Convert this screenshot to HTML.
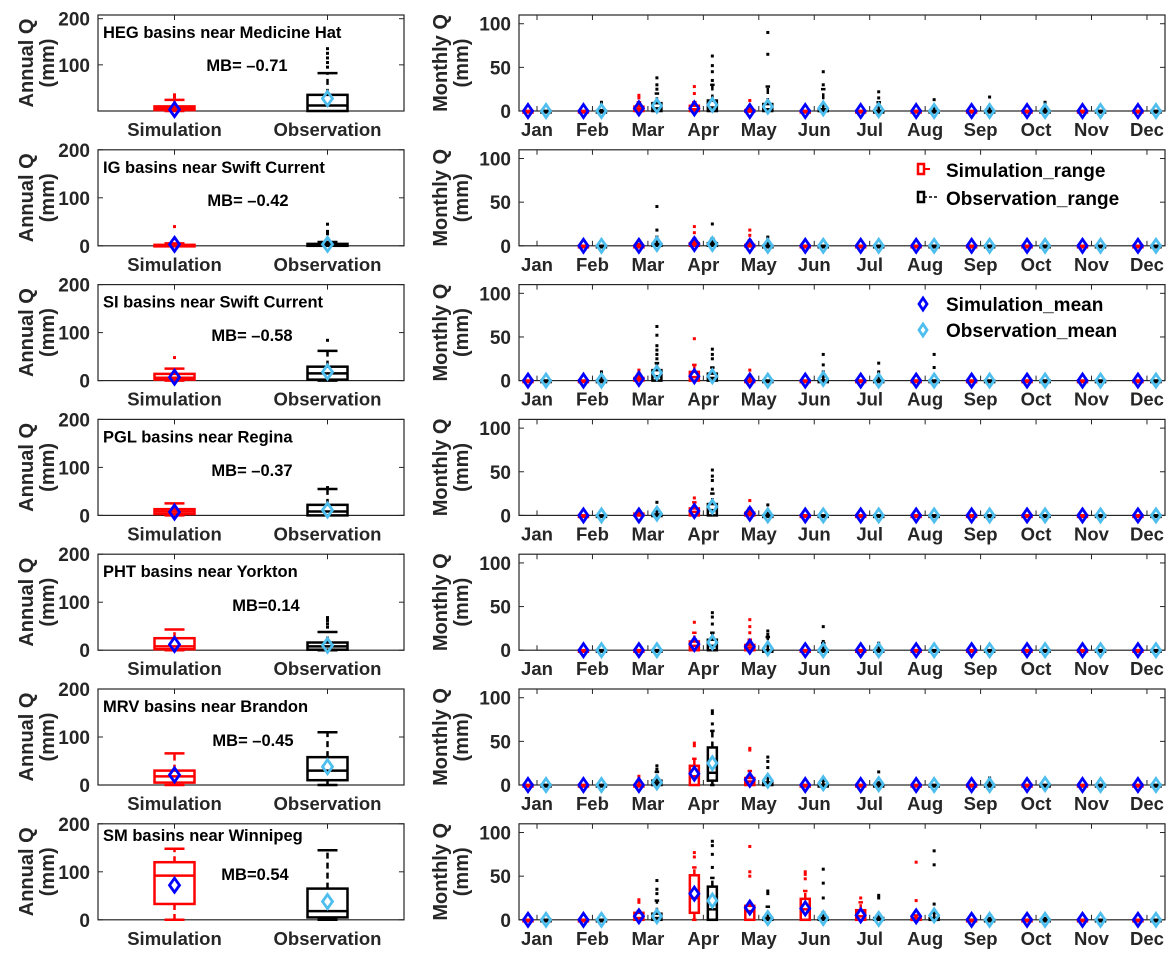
<!DOCTYPE html>
<html><head><meta charset="utf-8">
<style>
html,body{margin:0;padding:0;background:#fff;}
svg{display:block;font-family:"Liberation Sans",Arial,sans-serif;font-weight:bold;}
</style></head>
<body>
<svg id="chart" xmlns="http://www.w3.org/2000/svg" width="1176" height="958" viewBox="0 0 1176 958"></svg>
<script>
// ---------- DATA ----------
const regionTitles = ["HEG basins near Medicine Hat","IG basins near Swift Current","SI basins near Swift Current","PGL basins near Regina","PHT basins near Yorkton","MRV basins near Brandon","SM basins near Winnipeg"];
const mbLabels = ["MB= \u20130.71","MB= \u20130.42","MB= \u20130.58","MB= \u20130.37","MB=0.14","MB= \u20130.45","MB=0.54"];
const mbX = [247,248,252,252,266,253,255];
const months = ["Jan","Feb","Mar","Apr","May","Jun","Jul","Aug","Sep","Oct","Nov","Dec"];
const annualTicks = [0,100,200];
const monthlyTicks = [0,50,100];
// annual boxes: [lowWhisker, q1, median, q3, highWhisker]
const annualSimBox = [[0,2,5,10,24],[0,0,1,2,5],[0,2,6,14,25],[0,3,8,13,25],[0,2,8,25,43],[0,5,18,30,66],[0,33,92,120,148]];
const annualObsBox = [[0,0,12,35,82],[0,0,2,4,8],[0,2,15,29,62],[0,0,8,22,55],[0,1,8,16,38],[0,10,30,58,110],[0,5,18,65,145]];
const annualSimMean = [3,3,7,7,12,21,72];
const annualObsMean = [27,3,18,11,10,38,38];
const annualSimOut = [[30,35],[15,40],[48],[],[],[],[]];
const annualObsOut = [[95,105,115,125,135],[15,25,30,45],[84],[58],[48,55,62,68],[],[]];
// monthly (null = no data)
const N = null;
const monthlySimMean = [
 [0,0,3,3,0,0,0,0,0,0,0,0],[N,0,0,2,0,0,0,0,0,0,0,0],[0,0,2,5,0,0,0,0,0,0,0,0],
 [N,0,0,5,2,0,0,0,0,0,0,0],[N,0,0,7,4,0,0,0,0,0,0,0],[0,0,0,13,6,0,0,0,0,0,0,0],[0,0,4,30,14,13,5,4,0,0,0,0]];
const monthlyObsMean = [
 [0,0,6,7,5,3,1,0,0,0,0,0],[N,0,2,2,0,0,0,0,0,0,0,0],[0,0,9,5,0,2,0,0,0,0,0,0],
 [N,0,2,10,0,0,0,0,0,0,0,0],[N,0,0,9,2,0,0,0,0,0,0,0],[0,0,3,25,5,2,1,0,0,1,0,0],[0,0,4,22,2,2,1,5,0,0,0,0]];
const monthlySimQ1 = [
 [0,0,0,0,0,0,0,0,0,0,0,0],[0,0,0,0,0,0,0,0,0,0,0,0],[0,0,0,0,0,0,0,0,0,0,0,0],
 [0,0,0,0,0,0,0,0,0,0,0,0],[0,0,0,0,0,0,0,0,0,0,0,0],[0,0,0,0,0,0,0,0,0,0,0,0],[0,0,0,8,0,0,0,0,0,0,0,0]];
const monthlySimMed = [
 [0,0,2,2,0,0,0,0,0,0,0,0],[0,0,0,1,0,0,0,0,0,0,0,0],[0,0,1,4,0,0,0,0,0,0,0,0],
 [0,0,0,4,1,0,0,0,0,0,0,0],[0,0,0,5,3,0,0,0,0,0,0,0],[0,0,0,10,4,0,0,0,0,0,0,0],[0,0,2,25,10,12,4,0,0,0,0,0]];
const monthlySimQ3 = [
 [0,0,5,6,1,0,0,0,0,0,0,0],[0,0,0,3,1,0,0,0,0,0,0,0],[0,0,3,10,0,0,0,0,0,0,0,0],
 [0,0,2,8,3,0,0,0,0,0,0,0],[0,0,0,10,6,0,0,0,0,0,0,0],[0,0,0,22,8,0,0,0,0,0,0,0],[0,0,8,51,16,24,11,2,0,0,0,0]];
const monthlySimWhi = [
 [0,0,10,10,5,0,0,0,0,0,0,0],[0,0,2,8,6,0,0,0,0,0,0,0],[0,0,8,18,5,0,0,0,0,0,0,0],
 [0,0,3,15,8,0,0,0,0,0,0,0],[0,0,0,20,12,0,0,0,0,0,0,0],[0,0,5,30,16,0,0,0,0,0,0,0],[0,0,10,60,17,33,20,5,0,0,0,0]];
const monthlySimOut = [
 [[],[],[15,18],[20,28],[12],[],[],[],[],[],[],[]],
 [[],[],[],[15,22],[12,18],[],[],[],[],[],[],[]],
 [[],[],[12],[48],[12],[],[],[],[],[],[],[]],
 [[],[],[],[20],[17],[],[],[],[],[],[],[]],
 [[],[],[],[32],[20,27,35],[],[],[],[],[],[],[]],
 [[],[],[10],[45,48],[40,42],[],[],[],[],[],[],[]],
 [[],[],[20,23],[72,77],[50,55,84],[47,52,55],[25],[22,66],[],[],[],[]]];
const monthlyObsQ1 = [
 [0,0,0,0,0,0,0,0,0,0,0,0],[0,0,0,0,0,0,0,0,0,0,0,0],[0,0,0,0,0,0,0,0,0,0,0,0],
 [0,0,0,0,0,0,0,0,0,0,0,0],[0,0,0,0,0,0,0,0,0,0,0,0],[0,0,0,5,0,0,0,0,0,0,0,0],[0,0,0,0,0,0,0,0,0,0,0,0]];
const monthlyObsMed = [
 [0,0,3,4,2,0,0,0,0,0,0,0],[0,0,1,1,0,0,0,0,0,0,0,0],[0,0,5,3,0,0,0,0,0,0,0,0],
 [0,0,0,6,0,0,0,0,0,0,0,0],[0,0,0,5,0,0,0,0,0,0,0,0],[0,0,2,14,2,0,0,0,0,0,0,0],[0,0,2,12,0,0,0,0,0,0,0,0]];
const monthlyObsQ3 = [
 [0,0,9,12,8,2,0,0,0,0,0,0],[0,0,2,3,0,0,0,0,0,0,0,0],[0,0,12,8,0,0,0,0,0,0,0,0],
 [0,0,1,13,0,0,0,0,0,0,0,0],[0,0,0,12,0,0,0,0,0,0,0,0],[0,0,5,43,3,0,0,0,0,0,0,0],[0,0,7,38,2,2,2,2,0,0,0,0]];
const monthlyObsWhi = [
 [0,1,20,30,28,25,10,5,5,3,0,0],[0,0,6,8,4,0,0,0,0,0,0,0],[0,5,20,15,0,5,5,0,0,0,0,0],
 [0,0,5,25,3,0,0,0,0,0,0,0],[0,0,0,20,15,8,5,0,0,0,0,0],[0,0,15,62,10,5,3,0,5,0,0,0],[0,0,22,48,15,8,5,8,2,2,0,0]];
const monthlyObsOut = [
 [[],[10],[25,30,38],[35,45,52,63],[65,90],[30,45],[15,22],[13],[16],[10],[],[]],
 [[],[],[10,18,45],[25],[10],[],[],[],[],[],[],[]],
 [[],[10],[25,30,35,40,52,62],[25,30,36],[],[10,18,30],[10,20],[15,30],[],[],[],[]],
 [[],[],[15],[30,40,45,52],[12],[],[],[],[],[],[],[]],
 [[],[],[],[30,38,43],[18,22],[10,27],[8],[],[],[],[],[]],
 [[],[],[18,22],[70,82,85],[20,27,32],[7],[15],[],[8],[],[],[]],
 [[],[],[30,35,45],[60,75,85,90],[30,33],[25,42,58],[25,28],[18,63,79],[],[],[],[]]];

// ---------- LAYOUT ----------
const svg = document.getElementById('chart');
const NS = 'http://www.w3.org/2000/svg';
const RED='#ff0000', BLK='#000000', BLUE='#0000ff', CYAN='#4dbeee';
const TXT='#262626';
const rowTop = i => 15 + 134.8*i;
const rowH = 96;
const L = {x0:98, x1:404}, R = {x0:519, x1:1165};
function mk(tag, attrs, parent){const e=document.createElementNS(NS,tag);for(const k in attrs)e.setAttribute(k,attrs[k]);(parent||svg).appendChild(e);return e;}
function txt(s,attrs,parent){const e=mk('text',attrs,parent);e.textContent=s;return e;}
const annualX = k => L.x0 + (L.x1-L.x0)*(k===0?0.25:0.75);
const monthX = m => 537 + 55.45*m;

function drawBox(g, cx, w, q1,med,q3,whi,lo, color, yf){
  const b = mk('rect',{x:cx-w/2,y:yf(q3),width:w,height:Math.max(yf(q1)-yf(q3),1.5),fill:'none',stroke:color,'stroke-width':2.5},g);
  
  
  mk('line',{x1:cx-w/2,x2:cx+w/2,y1:yf(med),y2:yf(med),stroke:color,'stroke-width':2.5},g);
  if(whi>q3){
    mk('line',{x1:cx,x2:cx,y1:yf(q3),y2:yf(whi),stroke:color,'stroke-width':2.5,'stroke-dasharray':'6,4'},g);
    mk('line',{x1:cx-w/4,x2:cx+w/4,y1:yf(whi),y2:yf(whi),stroke:color,'stroke-width':2.5},g);
  }
  if(lo<q1){
    mk('line',{x1:cx,x2:cx,y1:yf(q1),y2:yf(lo),stroke:color,'stroke-width':2.5,'stroke-dasharray':'6,4'},g);
    mk('line',{x1:cx-w/4,x2:cx+w/4,y1:yf(lo),y2:yf(lo),stroke:color,'stroke-width':2.5},g);
  }
}
function drawOut(g,cx,vals,color,yf){
  vals.forEach(v=>{
    const d=mk('rect',{x:cx-1.5,y:yf(v)-1.5,width:3,height:3,fill:color},g);
    
    
  });
}
function diamond(g,cx,cy,color,w,h){
  const d=mk('path',{d:`M${cx},${cy-h} L${cx+w},${cy} L${cx},${cy+h} L${cx-w},${cy} Z`,fill:'none',stroke:color,'stroke-width':2.8},g);
  
  
}

for(let i=0;i<7;i++){
  const top=rowTop(i), bot=top+rowH;
  // ---- annual panel ----
  const ymaxA = i===0?208:200;
  const ya = v => bot - v/ymaxA*rowH;
  const ga = mk('g',{});
  
  
  mk('rect',{x:L.x0,y:top,width:L.x1-L.x0,height:rowH,fill:'#fff',stroke:TXT,'stroke-width':1.2},ga);
  annualTicks.forEach(t=>{
    if(i===0 && t===0) return;
    mk('line',{x1:L.x0,x2:L.x0+5,y1:ya(t),y2:ya(t),stroke:TXT},ga);
    mk('line',{x1:L.x1,x2:L.x1-5,y1:ya(t),y2:ya(t),stroke:TXT},ga);
    txt(String(t),{x:L.x0-8,y:ya(t)+7,'text-anchor':'end','font-size':19,fill:TXT},ga);
  });
  [0,1].forEach(k=>{
    mk('line',{x1:annualX(k),x2:annualX(k),y1:top,y2:top+5,stroke:TXT},ga);
    txt(k===0?'Simulation':'Observation',{x:annualX(k),y:bot+25,'text-anchor':'middle','font-size':18.5,fill:TXT},ga);
  });
  const ay=top+rowH/2;
  txt('Annual Q',{x:0,y:0,'text-anchor':'middle','font-size':20,fill:TXT,transform:`translate(33,${ay}) rotate(-90)`},ga);
  txt('(mm)',{x:0,y:0,'text-anchor':'middle','font-size':20,fill:TXT,transform:`translate(54,${ay}) rotate(-90)`},ga);
  const ti=txt(regionTitles[i],{x:103,y:top+(i===6?17:23),'font-size':16.5,fill:'#000'},ga);
  
  
  const mbt=txt(mbLabels[i],{x:mbX[i],y:[71,206,341,476,611,746,880][i],'text-anchor':'middle','font-size':16.5,fill:'#000'},ga);
  
  
  const sb=annualSimBox[i], ob=annualObsBox[i];
  drawBox(ga,annualX(0),40,sb[1],sb[2],sb[3],sb[4],sb[0],RED,ya);
  drawBox(ga,annualX(1),40,ob[1],ob[2],ob[3],ob[4],ob[0],BLK,ya);
  drawOut(ga,annualX(0),annualSimOut[i],RED,ya);
  drawOut(ga,annualX(1),annualObsOut[i],BLK,ya);
  diamond(ga,annualX(0),ya(annualSimMean[i]),BLUE,5,7);
  diamond(ga,annualX(1),ya(annualObsMean[i]),CYAN,5,7);

  // ---- monthly panel ----
  const ym = v => bot - v/110*rowH;
  const gm = mk('g',{});
  
  
  mk('rect',{x:R.x0,y:top,width:R.x1-R.x0,height:rowH,fill:'#fff',stroke:TXT,'stroke-width':1.2},gm);
  monthlyTicks.forEach(t=>{
    mk('line',{x1:R.x0,x2:R.x0+5,y1:ym(t),y2:ym(t),stroke:TXT},gm);
    mk('line',{x1:R.x1,x2:R.x1-5,y1:ym(t),y2:ym(t),stroke:TXT},gm);
    txt(String(t),{x:R.x0-8,y:ym(t)+7,'text-anchor':'end','font-size':19,fill:TXT},gm);
  });
  months.forEach((mn,m)=>{
    mk('line',{x1:monthX(m),x2:monthX(m),y1:top,y2:top+5,stroke:TXT},gm);
    mk('line',{x1:monthX(m),x2:monthX(m),y1:bot,y2:bot-5,stroke:TXT},gm);
    txt(mn,{x:monthX(m),y:bot+25,'text-anchor':'middle','font-size':18.5,fill:TXT},gm);
  });
  txt('Monthly Q',{x:0,y:0,'text-anchor':'middle','font-size':20,fill:TXT,transform:`translate(447,${ay}) rotate(-90)`},gm);
  txt('(mm)',{x:0,y:0,'text-anchor':'middle','font-size':20,fill:TXT,transform:`translate(468,${ay}) rotate(-90)`},gm);
  for(let m=0;m<12;m++){
    const sx=monthX(m)-9, ox=monthX(m)+9;
    if(monthlySimMean[i][m]!==null){
      drawBox(gm,sx,9,monthlySimQ1[i][m],monthlySimMed[i][m],monthlySimQ3[i][m],monthlySimWhi[i][m],0,RED,ym);
      drawOut(gm,sx,monthlySimOut[i][m],RED,ym);
    }
    if(monthlyObsMean[i][m]!==null){
      drawBox(gm,ox,9,monthlyObsQ1[i][m],monthlyObsMed[i][m],monthlyObsQ3[i][m],monthlyObsWhi[i][m],0,BLK,ym);
      drawOut(gm,ox,monthlyObsOut[i][m],BLK,ym);
    }
    if(monthlySimMean[i][m]!==null) diamond(gm,sx,ym(monthlySimMean[i][m]),BLUE,4.5,6.5);
    if(monthlyObsMean[i][m]!==null) diamond(gm,ox,ym(monthlyObsMean[i][m]),CYAN,4.5,6.5);
  }
}

// ---- legends ----
const lg1 = mk('g',{});


mk('rect',{x:918,y:164,width:6,height:10,fill:'none',stroke:RED,'stroke-width':2.5},lg1);
mk('line',{x1:924,x2:930,y1:169,y2:169,stroke:RED,'stroke-width':2},lg1);
txt('Simulation_range',{x:946,y:177,'font-size':19,fill:'#000'},lg1);
mk('rect',{x:918,y:192,width:6,height:10,fill:'none',stroke:BLK,'stroke-width':2.5},lg1);
mk('line',{x1:924,x2:938,y1:197,y2:197,stroke:BLK,'stroke-width':1.5,'stroke-dasharray':'3,2'},lg1);
txt('Observation_range',{x:946,y:205,'font-size':19,fill:'#000'},lg1);
const lg2 = mk('g',{});


diamond(lg2,923,304,BLUE,4,6);
txt('Simulation_mean',{x:946,y:311,'font-size':19,fill:'#000'},lg2);
diamond(lg2,923,330,CYAN,4,6);
txt('Observation_mean',{x:946,y:337,'font-size':19,fill:'#000'},lg2);
</script>
</body></html>
